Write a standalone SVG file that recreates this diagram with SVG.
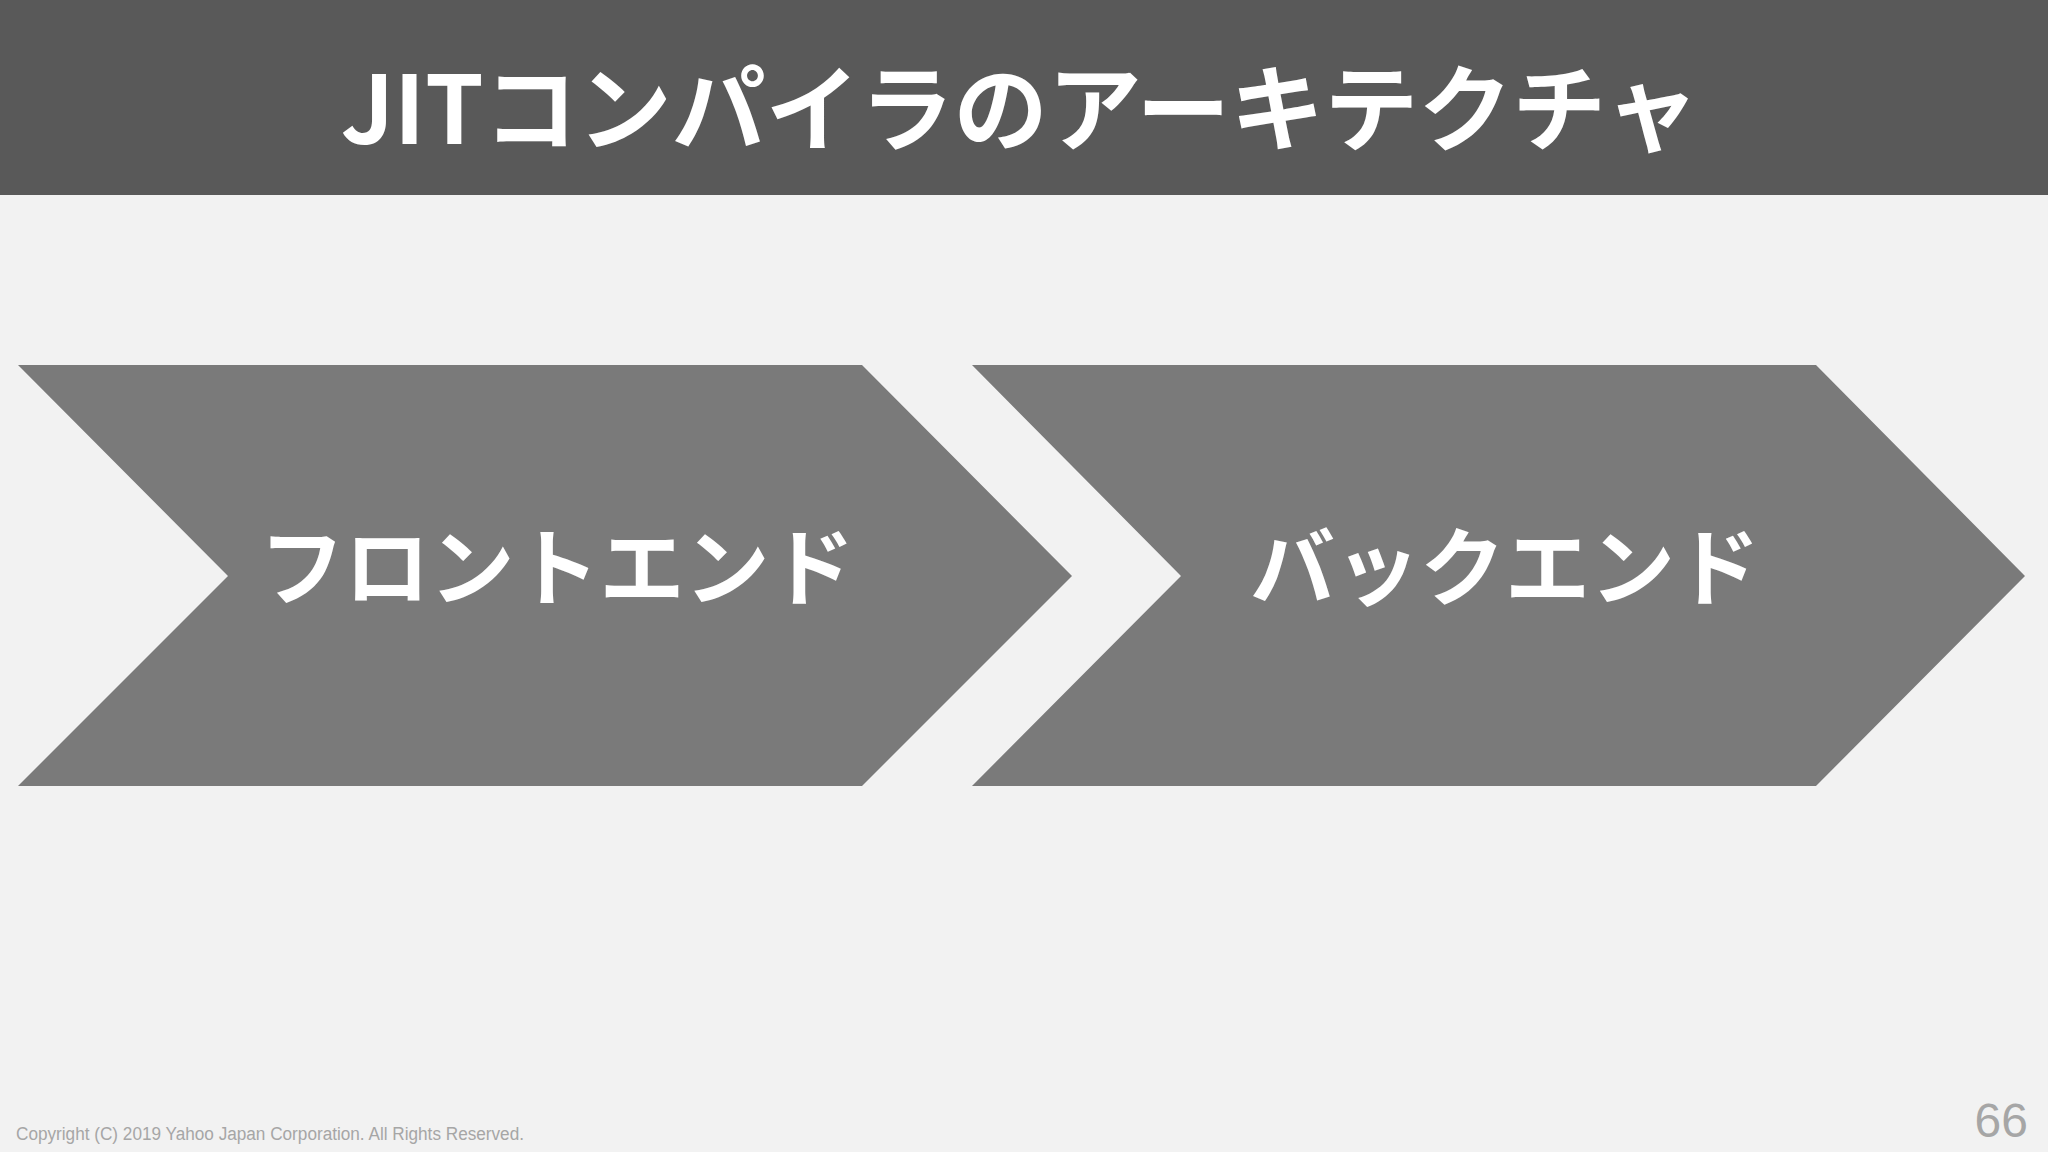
<svg xmlns="http://www.w3.org/2000/svg" width="2048" height="1152" viewBox="0 0 2048 1152">
  <style>
    .chev { fill: #7a7a7a; }
    .label { fill: #ffffff; font-family: "Noto Sans CJK JP", "Noto Sans", sans-serif; font-size: 85px; font-weight: 700; text-anchor: middle; }
    .title { fill: #ffffff; font-family: "Noto Sans CJK JP", "Noto Sans", sans-serif; font-size: 94px; font-weight: 700; text-anchor: middle; }
    .foot { fill: #a6a6a6; font-family: "Liberation Sans", Arial, sans-serif; }
  </style>
  <rect x="0" y="0" width="2048" height="1152" fill="#f2f2f2"/>
  <g id="header">
    <rect x="0" y="0" width="2048" height="195" fill="#595959"/>
    <text class="title" x="1020" y="144">JITコンパイラのアーキテクチャ</text>
  </g>
  <g id="frontend">
    <polygon class="chev" points="18,365 862,365 1072,576 862,786 18,786 228,576"/>
    <text class="label" x="557" y="599">フロントエンド</text>
  </g>
  <g id="backend">
    <polygon class="chev" points="972,365 1816,365 2025,576 1816,786 972,786 1181,576"/>
    <text class="label" x="1505" y="599">バックエンド</text>
  </g>
  <g id="connectors"></g>
  <g id="footer">
    <text class="foot" x="16" y="1140" font-size="18" textLength="508" lengthAdjust="spacingAndGlyphs">Copyright (C) 2019 Yahoo Japan Corporation. All Rights Reserved.</text>
    <text class="foot" x="2028" y="1137" font-size="48" text-anchor="end" fill="#a0a0a0">66</text>
  </g>
</svg>
